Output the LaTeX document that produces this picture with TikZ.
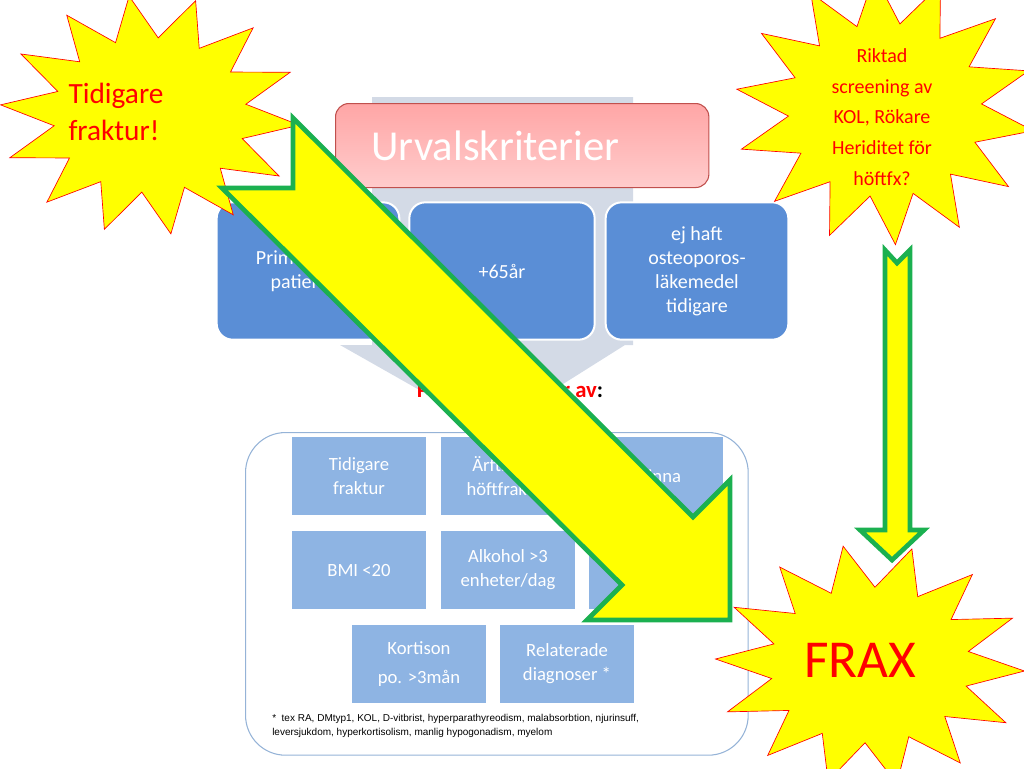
\documentclass[tikz,border=0pt]{standalone}
\usepackage{fontspec}
\setmainfont{Carlito}
\newfontfamily\arialf{Liberation Sans}
\usetikzlibrary{shapes.geometric}
\definecolor{chev}{HTML}{D3DAE6}
\definecolor{blueA}{HTML}{5A8ED6}
\definecolor{blueB}{HTML}{8EB4E3}
\definecolor{frameC}{HTML}{95B3D7}
\definecolor{redB}{HTML}{C0504D}
\definecolor{grn}{HTML}{1BB050}
\definecolor{yel}{HTML}{FFFF00}
\tikzset{
 bigbox/.style={draw=white,line width=1.5pt,fill=blueA,rounded corners=12pt,text=white,font=\fontsize{15}{18}\selectfont,align=center},
 smallbox/.style={fill=blueB,text=white,font=\fontsize{14}{18}\selectfont,align=center},
 burst/.style={star,star points=14,star point ratio=1.55,fill=yel,draw=red,line width=0.5pt},
 bursttext/.style={text=red,align=center},
 arrowshape/.style={fill=yel,draw=grn,line width=3.5pt,line join=miter}
}
\begin{document}
\begin{tikzpicture}[x=0.75pt,y=-0.75pt]
\useasboundingbox (0,0) rectangle (1024,768);
% chevron background
\fill[chev] (372,97) -- (633,97) -- (633,345) -- (625,345) -- (490,430) -- (340,345) -- (372,345) -- cycle;
% title
\node[draw=redB,line width=0.8pt,rounded corners=10pt,top color=red!35,bottom color=red!20!white,minimum width=280pt,minimum height=63pt,text=white,font=\fontsize{32}{36}\selectfont,anchor=north west,inner sep=0pt] (title) at (335,103) {\hspace*{-40pt}Urvalskriterier};
% criteria
\node[bigbox,minimum width=137pt,minimum height=103pt] (b1) at (308,271) {Primärvårds-\\patienter};
\node[bigbox,minimum width=139pt,minimum height=103pt] (b2) at (502,271) {+65år};
\node[bigbox,minimum width=137pt,minimum height=103pt] (b3) at (697,271) {ej haft\\osteoporos-\\läkemedel\\tidigare};
\node[font=\fontsize{17}{20}\selectfont\bfseries] (plus) at (510,390) {\textcolor{red}{Plus riskfaktorer av}:};
% frame
\node[draw=frameC,line width=0.8pt,rounded corners=30pt,minimum width=377pt,minimum height=242pt,anchor=north west] (frame) at (245,432) {};
\node[smallbox,minimum width=100pt,minimum height=58pt] (s1) at (359,476) {Tidigare\\fraktur};
\node[smallbox,minimum width=100pt,minimum height=58pt] (s2) at (508,476) {Ärftlighet\\höftfraktur};
\node[smallbox,minimum width=100pt,minimum height=58pt] (s3) at (656,476) {Kvinna};
\node[smallbox,minimum width=100pt,minimum height=58pt] (s4) at (359,570) {BMI <20};
\node[smallbox,minimum width=100pt,minimum height=58pt] (s5) at (508,570) {Alkohol >3\\enheter/dag};
\node[smallbox,minimum width=100pt,minimum height=58pt] (s6) at (656,570) {Rökning};
\node[smallbox,minimum width=100pt,minimum height=58pt] (s7) at (419,664) {Kortison\\[4pt]po. >3mån};
\node[smallbox,minimum width=100pt,minimum height=58pt] (s8) at (567,664) {Relaterade\\diagnoser *};
\node[anchor=north west,align=left,font=\arialf\fontsize{7.5}{10.5}\selectfont,inner sep=0pt] (foot) at (272,714) {* \ tex RA, DMtyp1, KOL, D-vitbrist, hyperparathyreodism, malabsorbtion, njurinsuff,\\leversjukdom, hyperkortisolism, manlig hypogonadism, myelom};
% bursts
\node[burst,minimum size=225pt,yscale=0.8,rotate=8] (st1) at (150,115) {};
\node[bursttext,font=\fontsize{22}{28}\selectfont,align=left] (t1) at (116,112) {Tidigare\\fraktur!};
\node[burst,minimum size=225pt,yscale=0.9,rotate=4] (st2) at (885,110) {};
\node[bursttext,font=\fontsize{15}{23}\selectfont] (t2) at (882,117) {Riktad\\screening av\\KOL, Rökare\\Heriditet för\\höftfx?};
\node[burst,minimum size=232pt,yscale=0.78,rotate=10] (st3) at (870,665) {};
\node[bursttext,font=\fontsize{40}{44}\selectfont] (t3) at (860,660) {FRAX};
% arrows
\draw[arrowshape] (293,118) -- (693,517) -- (730,480) -- (730,620) -- (587,620) -- (622,585) -- (222,188) -- (293,188) -- cycle;
\draw[arrowshape] (885,250) -- (897,263) -- (910,250) -- (910,530) -- (924,530) -- (892,560) -- (860,530) -- (885,530) -- cycle;
\end{tikzpicture}
\end{document}
